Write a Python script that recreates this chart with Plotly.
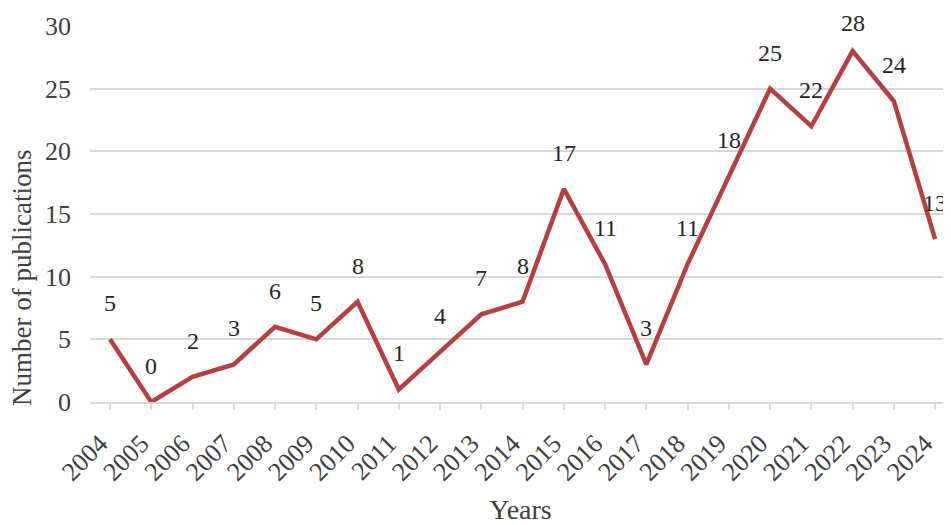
import plotly.graph_objects as go

years = [2004, 2005, 2006, 2007, 2008, 2009, 2010, 2011, 2012, 2013,
         2014, 2015, 2016, 2017, 2018, 2019, 2020, 2021, 2022, 2023, 2024]
publications = [5, 0, 2, 3, 6, 5, 8, 1, 4, 7, 8, 17, 11, 3, 11, 18, 25, 22, 28, 24, 13]
y_ticks = [0, 5, 10, 15, 20, 25, 30]

FONT = "Liberation Serif, Times New Roman, serif"
LINE_COLOR = "#B5403F"
GRID = "#d9d9d9"
LABEL_SHIFT = 36
LABEL_SHIFT_OVERRIDE = {2022: 28}  # label kept inside the chart top

fig = go.Figure()
fig.add_trace(go.Scatter(
    x=years, y=publications, mode="lines",
    line=dict(color=LINE_COLOR, width=4.5),
    cliponaxis=False, hoverinfo="x+y",
))

for yr, v in zip(years, publications):
    fig.add_annotation(x=yr, y=v, text=str(v), showarrow=False,
                       yshift=LABEL_SHIFT_OVERRIDE.get(yr, LABEL_SHIFT),
                       font=dict(family=FONT, size=24, color="#262626"))

# y-axis title placed like the original (centred lower than the plot area)
fig.add_annotation(xref="paper", yref="paper", x=0, y=0.33, xshift=-68,
                   xanchor="center", yanchor="middle",
                   text="Number of publications", textangle=-90, showarrow=False,
                   font=dict(family=FONT, size=27, color="#404040"))

fig.update_layout(
    width=943, height=517,
    margin=dict(l=82, r=0, t=18, b=123, autoexpand=False),
    paper_bgcolor="white", plot_bgcolor="white",
    showlegend=False,
    font=dict(family=FONT, color="#404040"),
    xaxis=dict(
        range=[years[0] - 0.485, years[0] + 20.385],
        tickmode="array", tickvals=years, ticktext=[str(y) for y in years],
        showgrid=False, showline=True, linecolor=GRID, linewidth=2,
        ticks="outside", ticklen=6, tickwidth=2, tickcolor=GRID,
        tickangle=-45, tickfont=dict(family=FONT, size=26, color="#404040"),
        ticklabelstandoff=8, ticklabelshift=-10,
        title=dict(text="Years", font=dict(family=FONT, size=28, color="#404040"), standoff=22),
        zeroline=False, automargin=False,
    ),
    yaxis=dict(
        range=[0, 30], tickvals=y_ticks,
        showgrid=True, gridcolor=GRID, gridwidth=2,
        zeroline=False, showline=False,
        ticklabelstandoff=18,
        tickfont=dict(family=FONT, size=26, color="#404040"),
        automargin=False,
    ),
)

fig.write_html("out.html")
